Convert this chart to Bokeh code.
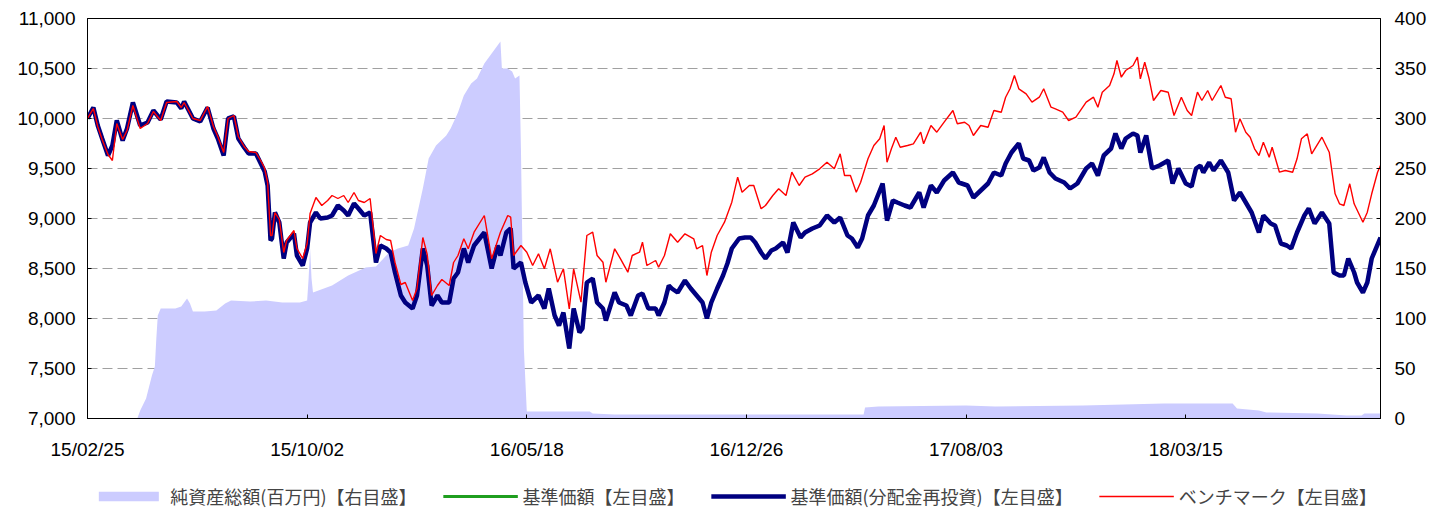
from bokeh.plotting import figure
from bokeh.layouts import column
from bokeh.models import (Range1d, LinearAxis, FixedTicker, Legend, LegendItem,
                          NumeralTickFormatter, ColumnDataSource)
from bokeh.embed import file_html
from bokeh.resources import INLINE

# x = trading-day index since 2015/02/25
TICK_POS = [0, 150, 300, 450, 600, 750]
TICK_LABELS = ["15/02/25", "15/10/02", "16/05/18", "16/12/26", "17/08/03", "18/03/15"]

NAV_POINTS = [(0,10000),(4,10110),(7,9930),(10,9800),(14,9630),(17,9730),(20,9980),(24,9780),(27,9900),(31,10160),
(36,9930),(41,9960),(45,10080),(50,9990),(54,10170),(61,10160),(64,10100),(66,10170),(72,10000),(77,9970),
(82,10110),(86,9900),(89,9800),(93,9630),(96,10000),(100,10020),(103,9800),(107,9710),(110,9650),(115,9650),
(119,9530),(121,9470),(123,9330),(125,8780),(126,8800),(128,9060),(131,8960),(134,8600),(136,8760),(141,8850),
(143,8630),(147,8530),(150,8700),(152,8960),(156,9060),(159,9000),(164,9010),(167,9030),(171,9130),(175,9080),
(178,9030),(182,9150),(185,9100),(189,9030),(193,9060),(197,8560),(200,8730),(204,8700),(207,8660),(210,8460),
(214,8230),(217,8160),(222,8100),(225,8230),(229,8700),(232,8530),(235,8130),(239,8230),(242,8160),(247,8160),
(250,8400),(253,8460),(257,8700),(260,8560),(264,8730),(271,8860),(276,8500),(280,8730),(282,8630),(286,8860),
(289,8900),(291,8500),(296,8560),(299,8360),(303,8160),(308,8230),(312,8100),(315,8300),(319,8030),(322,7930),
(325,8060),(329,7700),(332,8100),(336,7860),(338,7900),(341,8360),(345,8400),(348,8160),(352,8100),(354,7980),
(360,8260),(363,8160),(368,8130),(371,8030),(376,8230),(379,8250),(383,8100),(388,8100),(390,8030),(394,8160),
(397,8330),(399,8300),(403,8260),(408,8380),(412,8300),(416,8230),(420,8160),(423,8000),(426,8160),(430,8300),
(434,8430),(437,8550),(440,8700),(445,8800),(449,8810),(453,8810),(456,8760),(460,8660),(463,8600),(467,8680),
(470,8700),(475,8760),(478,8660),(482,8960),(487,8810),(490,8860),(495,8900),(500,8930),(505,9030),(510,8960),
(514,9010),(519,8830),(522,8800),(526,8710),(529,8800),(533,9030),(537,9130),(543,9350),(546,8980),(550,9180),
(553,9160),(558,9130),(562,9110),(568,9260),(571,9110),(576,9330),(580,9260),(585,9380),(591,9460),(595,9360),
(601,9330),(605,9210),(610,9280),(615,9350),(619,9460),(624,9430),(627,9550),(631,9660),(636,9750),(639,9600),
(643,9580),(646,9480),(650,9510),(653,9610),(657,9460),(661,9400),(667,9360),(671,9300),(676,9350),(682,9500),
(686,9550),(690,9430),(694,9630),(699,9700),(702,9850),(706,9700),(709,9800),(714,9850),(717,9830),(719,9660),
(723,9830),(727,9500),(732,9530),(738,9580),(741,9350),(745,9500),(750,9350),(754,9320),(757,9500),(760,9530),
(762,9460),(766,9560),(769,9480),(774,9580),(779,9460),(783,9180),(787,9260),(791,9160),(795,9060),(800,8860),
(803,9030),(808,8950),(811,8930),(815,8750),(819,8730),(822,8700),(826,8860),(831,9030),(834,9100),(838,8950),
(843,9060),(848,8950),(851,8460),(855,8430),(858,8430),(861,8600),(865,8460),(867,8360),(871,8260),(874,8360),
(877,8600),(883,8810)]

BENCH_POINTS = [(0,10000),(4,10100),(7,9920),(10,9790),(14,9640),(17,9580),(20,9950),(24,9790),(27,9880),(31,10130),
(36,9900),(41,9950),(45,10070),(50,9980),(54,10160),(61,10170),(64,10110),(66,10160),(72,10000),(77,9980),
(82,10120),(86,9920),(89,9820),(93,9660),(96,10000),(100,10030),(103,9820),(107,9720),(110,9670),(115,9660),
(119,9560),(121,9500),(123,9360),(125,8830),(126,8830),(128,9060),(131,8990),(134,8660),(136,8780),(141,8880),
(143,8700),(147,8600),(150,8750),(152,9050),(156,9210),(160,9130),(164,9180),(167,9230),(171,9200),(175,9230),
(178,9160),(182,9260),(185,9180),(189,9160),(193,9200),(197,8650),(200,8830),(204,8790),(207,8780),(210,8560),
(214,8340),(217,8360),(222,8180),(225,8300),(229,8810),(232,8640),(235,8230),(239,8330),(242,8390),(247,8330),
(250,8560),(253,8630),(257,8797),(260,8697),(264,8863),(271,9030),(276,8597),(282,8863),(287,9030),(289,9013),
(291,8630),(296,8730),(300,8663),(304,8530),(308,8647),(312,8497),(316,8697),(321,8363),(325,8497),(329,8097),
(332,8497),(337,8163),(341,8830),(345,8863),(348,8630),(352,8563),(354,8363),(360,8697),(364,8597),(369,8463),
(372,8630),(377,8663),(379,8763),(382,8530),(388,8580),(390,8513),(394,8630),(398,8847),(403,8763),(408,8847),
(414,8797),(416,8697),(420,8730),(423,8430),(426,8663),(430,8830),(435,8963),(440,9163),(444,9413),(447,9263),
(452,9330),(455,9330),(460,9097),(463,9130),(468,9230),(472,9297),(477,9230),(481,9463),(486,9330),(490,9413),
(495,9447),(500,9497),(505,9563),(510,9497),(514,9647),(517,9430),(521,9430),(525,9263),(528,9363),(533,9597),
(537,9730),(541,9797),(544,9930),(546,9563),(549,9697),(552,9813),(555,9713),(560,9730),(564,9747),(569,9863),
(571,9747),(576,9930),(580,9863),(585,9963),(591,10080),(594,9947),(599,9963),(602,9930),(605,9830),(610,9930),
(615,9913),(619,10080),(624,10063),(627,10213),(630,10297),(633,10430),(636,10297),(641,10247),(645,10163),(650,10213),
(653,10297),(658,10113),(661,10097),(666,10063),(670,9980),(675,10013),(682,10163),(687,10213),(690,10113),(693,10263),
(698,10330),(701,10447),(703,10580),(706,10413),(709,10480),(714,10530),(717,10613),(719,10397),(722,10563),(725,10397),
(728,10180),(733,10280),(738,10263),(742,10030),(747,10213),(751,10080),(754,10030),(758,10263),(761,10180),(765,10280),
(768,10180),(774,10330),(777,10213),(781,10197),(784,9863),(787,9997),(791,9863),(794,9813),(797,9697),(800,9630),
(803,9763),(807,9613),(809,9713),(814,9463),(818,9480),(823,9463),(826,9597),(829,9797),(833,9847),(836,9647),
(843,9813),(848,9663),(852,9247),(855,9147),(858,9130),(862,9347),(865,9147),(871,8963),(874,9063),(877,9247),
(881,9463),(883,9530)]

AUM_POINTS = [(0,0),(34,0),(36,8),(40,20),(44,43),(46,52),(47,80),(48,103),(50,110),(60,110),(64,112),(68,120),
(70,115),(72,107),(80,107),(88,108),(94,115),(98,118),(111,117),(122,118),(133,116),(145,116),(150,118),(151,140),
(152,170),(153,140),(154,126),(167,133),(178,143),(190,151),(197,152),(206,166),(212,170),(219,173),(223,190),
(229,230),(233,260),(238,273),(245,283),(248,290),(253,306),(257,323),(262,335),(266,340),(271,355),(275,363),
(280,373),(282,377),(283,350),(287,350),(290,347),(292,340),(295,343),(296,270),(298,70),(300,7),(343,7),(345,5),
(360,4),(530,4),(531,11),(540,12),(600,13),(620,12),(680,13),(735,15),(782,15),(785,10),(800,8),(805,6),(840,5),
(860,3),(870,3),(872,5),(883,5)]

LEGEND_LABELS = ["純資産総額(百万円)【右目盛】", "基準価額【左目盛】", "基準価額(分配金再投資)【左目盛】", "ベンチマーク【左目盛】"]

nav_src = ColumnDataSource(dict(x=[a for a, b in NAV_POINTS], y=[b for a, b in NAV_POINTS]))
bm_src = ColumnDataSource(dict(x=[a for a, b in BENCH_POINTS], y=[b for a, b in BENCH_POINTS]))
aum_src = ColumnDataSource(dict(x=[a for a, b in AUM_POINTS], y=[b for a, b in AUM_POINTS],
                                z=[0 for a, b in AUM_POINTS]))

NUM_FONT = "Liberation Sans"
JP_FONT = "Noto Sans CJK JP"
AREA_COLOR = "#ccccff"
GREEN = "#1f9e1f"
NAVY = "#000080"
RED = "#ff0000"

p = figure(width=1435, height=470, x_range=Range1d(0, 883), y_range=Range1d(7000, 11000),
           output_backend="svg", toolbar_location=None,
           min_border_left=87, min_border_right=55, min_border_top=18, min_border_bottom=52)
p.extra_y_ranges = {"aum": Range1d(0, 400)}

p.varea(x="x", y1="z", y2="y", source=aum_src, fill_color=AREA_COLOR, y_range_name="aum")
p.line("x", "y", source=nav_src, line_color=GREEN, line_width=3)
p.line("x", "y", source=nav_src, line_color=NAVY, line_width=4.5)
p.line("x", "y", source=bm_src, line_color=RED, line_width=1.4)

right = LinearAxis(y_range_name="aum")
p.add_layout(right, "right")

p.xaxis.ticker = FixedTicker(ticks=TICK_POS)
p.xaxis.major_label_overrides = {t: l for t, l in zip(TICK_POS, TICK_LABELS)}
p.yaxis[0].ticker = FixedTicker(ticks=list(range(7000, 11001, 500)))
p.yaxis[0].formatter = NumeralTickFormatter(format="0,0")
right.ticker = FixedTicker(ticks=list(range(0, 401, 50)))

for ax in [p.xaxis[0], p.yaxis[0], right]:
    ax.major_label_text_font = NUM_FONT
    ax.major_label_text_font_size = "19px"
    ax.major_label_text_color = "black"
    ax.axis_line_color = "black"
    ax.major_tick_line_color = "black"
    ax.major_tick_in = 4
    ax.major_tick_out = 0
    ax.minor_tick_line_color = None
p.xaxis.major_label_standoff = 20
p.yaxis[0].major_label_standoff = 12
right.major_label_standoff = 14

p.xgrid.grid_line_color = None
p.ygrid.ticker = FixedTicker(ticks=list(range(7500, 11000, 500)))
p.ygrid.grid_line_color = "#a0a0a0"
p.ygrid.grid_line_dash = "10 5"
p.ygrid.grid_line_width = 1
p.outline_line_color = "black"
p.background_fill_color = "white"
p.border_fill_color = "white"

# legend strip below the chart: key glyphs only, placed outside the strip's visible range
lg = figure(width=1435, height=39, x_range=Range1d(0, 1), y_range=Range1d(0, 1),
            output_backend="svg", toolbar_location=None, x_axis_location=None, y_axis_location=None,
            min_border_left=87, min_border_right=55, min_border_top=0, min_border_bottom=0)
lg.grid.visible = False
lg.outline_line_color = None
OFF = [-5, -4]
k_area = lg.varea(x=OFF, y1=OFF, y2=OFF, fill_color=AREA_COLOR)
k_green = lg.line(x=OFF, y=OFF, line_color=GREEN, line_width=3)
k_navy = lg.line(x=OFF, y=OFF, line_color=NAVY, line_width=4.5)
k_red = lg.line(x=OFF, y=OFF, line_color=RED, line_width=1.4)

legend = Legend(items=[
    LegendItem(label=LEGEND_LABELS[0], renderers=[k_area]),
    LegendItem(label=LEGEND_LABELS[1], renderers=[k_green]),
    LegendItem(label=LEGEND_LABELS[2], renderers=[k_navy]),
    LegendItem(label=LEGEND_LABELS[3], renderers=[k_red]),
], orientation="horizontal", location="bottom_center")
legend.label_text_font = JP_FONT
legend.label_text_font_size = "18px"
legend.glyph_width = 75
legend.glyph_height = 12
legend.label_standoff = 5
legend.spacing = 26
legend.padding = 2
legend.margin = 0
legend.border_line_color = None
legend.background_fill_alpha = 0
lg.add_layout(legend, "center")

layout = column(p, lg, spacing=0)
open("out.html", "w").write(file_html(layout, INLINE))
